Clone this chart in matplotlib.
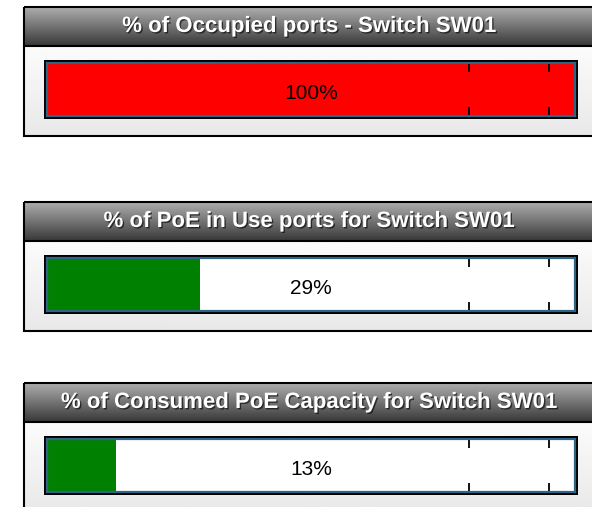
import numpy as np
import matplotlib
matplotlib.use('Agg')
import matplotlib.pyplot as plt
from matplotlib.patches import Rectangle
import matplotlib.patheffects as pe

plt.rcParams['font.family'] = ['Liberation Sans', 'DejaVu Sans']

# data
titles = ['% of Occupied ports - Switch SW01',
          '% of PoE in Use ports for Switch SW01',
          '% of Consumed PoE Capacity for Switch SW01']
values = [100, 29, 13]
bar_colors = ['#ff0000', '#008000', '#008000']
thresholds = [80, 95]

W, H = 592, 507
fig = plt.figure(figsize=(W / 100, H / 100), dpi=100)
fig.patch.set_facecolor('white')

# background axes in pixel coords
bg = fig.add_axes([0, 0, 1, 1])
bg.set_xlim(0, W)
bg.set_ylim(H, 0)
bg.axis('off')

panel_top = [7, 202, 383]
title_h = 39
panel_h = 129
px_left, px_right = 24, 596
bar_off = 56      # from panel top to bar top
bar_h = 53
bx0, bx1 = 47, 575

title_grad = np.linspace(0.68, 0.22, 64).reshape(-1, 1)
body_grad = np.linspace(0.985, 0.91, 64).reshape(-1, 1)

for i, top in enumerate(panel_top):
    # title bar gradient
    bg.imshow(np.repeat(title_grad, 2, axis=1), cmap='gray', vmin=0, vmax=1,
              extent=(px_left, px_right, top + title_h, top), aspect='auto', zorder=1)
    # body gradient
    bg.imshow(np.repeat(body_grad, 2, axis=1), cmap='gray', vmin=0, vmax=1,
              extent=(px_left, px_right, top + panel_h, top + title_h), aspect='auto', zorder=1)
    bg.add_patch(Rectangle((px_left, top), px_right - px_left, panel_h,
                           fill=False, ec='black', lw=1.5, zorder=3))
    bg.plot([px_left, px_right], [top + title_h, top + title_h], color='black', lw=1.5, zorder=3)
    bg.text((px_left + 594) / 2, top + title_h / 2, titles[i], color='white',
            fontsize=16, fontweight='bold', ha='center', va='center', zorder=4,
            path_effects=[pe.SimplePatchShadow(offset=(1, -1), shadow_rgbFace='black', alpha=0.6),
                          pe.Normal()])
    # black frame around bar
    by = top + bar_off
    bg.add_patch(Rectangle((bx0 - 3, by - 3), bx1 - bx0 + 6, bar_h + 6,
                           fc='black', ec='none', zorder=2))

    # the bar itself
    ax = fig.add_axes([bx0 / W, 1 - (by + bar_h) / H, (bx1 - bx0) / W, bar_h / H])
    ax.set_facecolor('white')
    ax.barh(0, values[i], height=1, color=bar_colors[i], edgecolor='none')
    ax.set_xlim(0, 100)
    ax.set_ylim(-0.5, 0.5)
    ax.set_yticks([])
    ax.set_xticks(thresholds)
    ax.tick_params(axis='x', direction='in', top=True, bottom=True, length=6.5, width=1.3,
                   color='black', labelbottom=False)
    for s in ax.spines.values():
        s.set_color('#2f6485')
        s.set_linewidth(1.6)
    ax.text(50, -0.08, f'{values[i]}%', fontsize=15, ha='center', va='center', color='black')

fig.savefig('out.png', dpi=100)
